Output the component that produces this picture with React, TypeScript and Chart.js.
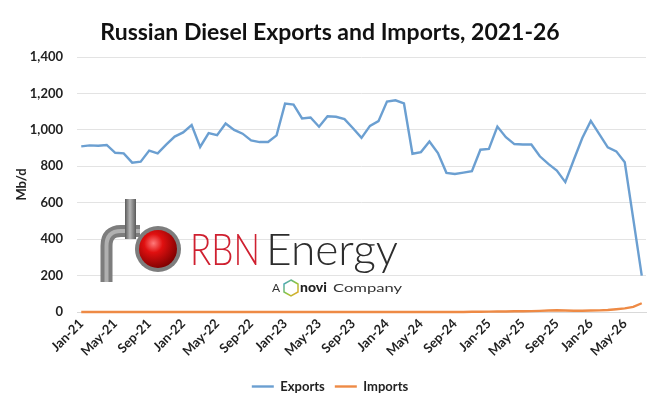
import React, { useEffect, useRef } from "react";
import { Chart, registerables } from "chart.js";

Chart.register(...registerables);

const months: string[] = [
  "Jan-21", "Feb-21", "Mar-21", "Apr-21", "May-21", "Jun-21", "Jul-21", "Aug-21", "Sep-21", "Oct-21", "Nov-21", "Dec-21",
  "Jan-22", "Feb-22", "Mar-22", "Apr-22", "May-22", "Jun-22", "Jul-22", "Aug-22", "Sep-22", "Oct-22", "Nov-22", "Dec-22",
  "Jan-23", "Feb-23", "Mar-23", "Apr-23", "May-23", "Jun-23", "Jul-23", "Aug-23", "Sep-23", "Oct-23", "Nov-23", "Dec-23",
  "Jan-24", "Feb-24", "Mar-24", "Apr-24", "May-24", "Jun-24", "Jul-24", "Aug-24", "Sep-24", "Oct-24", "Nov-24", "Dec-24",
  "Jan-25", "Feb-25", "Mar-25", "Apr-25", "May-25", "Jun-25", "Jul-25", "Aug-25", "Sep-25", "Oct-25", "Nov-25", "Dec-25",
  "Jan-26", "Feb-26", "Mar-26", "Apr-26", "May-26", "Jun-26", "Jul-26",
];

const exportsMbd: number[] = [
  909, 915, 913, 917, 874, 871, 820, 825, 886, 871, 919, 963,
  986, 1026, 906, 982, 971, 1035, 1000, 979, 942, 933, 933, 970,
  1144, 1139, 1063, 1068, 1017, 1075, 1072, 1059, 1009, 956, 1022, 1048,
  1155, 1162, 1145, 869, 878, 936, 873, 764, 758, 765, 773, 891,
  895, 1018, 960, 922, 920, 920, 855, 813, 776, 713, 836, 955,
  1049, 976, 904, 882, 822, 511, 200,
];

const importsMbd: number[] = [
  0, 0, 0, 0, 0, 0, 0, 0, 0, 0, 0, 0,
  0, 0, 0, 0, 0, 0, 0, 0, 0, 0, 0, 0,
  0, 0, 0, 0, 0, 0, 0, 0, 0, 0, 0, 0,
  0, 0, 0, 0, 0, 0, 0, 0, 0, 0, 1, 1,
  2, 3, 3, 4, 4, 5, 6, 8, 10, 8, 7, 7,
  8, 9, 11, 15, 20, 28, 48,
];

const yTicks: number[] = [0, 200, 400, 600, 800, 1000, 1200, 1400];
const labelEvery = 4;

const FONT = "Lato, 'Open Sans', sans-serif";

export default function App() {
  const canvasRef = useRef<HTMLCanvasElement | null>(null);

  useEffect(() => {
    document.body.style.margin = "0";
    const canvas = canvasRef.current;
    if (!canvas) return;
    const chart = new Chart(canvas, {
      type: "line",
      data: {
        labels: months,
        datasets: [
          {
            label: "Exports",
            data: exportsMbd,
            borderColor: "#6b9fd1",
            backgroundColor: "#6b9fd1",
            borderWidth: 2.4,
            pointRadius: 0,
            tension: 0,
            clip: 6,
          },
          {
            label: "Imports",
            data: importsMbd,
            borderColor: "#ee8a45",
            backgroundColor: "#ee8a45",
            borderWidth: 2.4,
            pointRadius: 0,
            tension: 0,
            clip: 6,
          },
        ],
      },
      options: {
        responsive: false,
        animation: false,
        layout: { padding: { left: 14, right: 19, top: 0, bottom: 6 } },
        plugins: {
          title: {
            display: true,
            text: "Russian Diesel Exports and Imports, 2021-26",
            color: "#111",
            font: { family: FONT, size: 23, weight: "bold" },
            padding: { top: 19, bottom: 10.4 },
          },
          legend: {
            position: "bottom",
            labels: {
              usePointStyle: true,
              pointStyle: "line",
              pointStyleWidth: 22,
              padding: 10,
              color: "#222",
              font: { family: FONT, size: 13, weight: "bold" },
            },
          },
          tooltip: { enabled: false },
        },
        scales: {
          x: {
            offset: true,
            grid: { display: false, drawTicks: false },
            border: { display: true, color: "#d9d9d9" },
            ticks: {
              autoSkip: false,
              maxRotation: 45,
              minRotation: 45,
              padding: 4,
              color: "#222",
              font: { family: FONT, size: 13, weight: "bold" },
              callback: (_v: any, i: number) => (i % labelEvery === 0 ? months[i] : ""),
            },
            afterFit: (scale: any) => {
              scale.height = 58;
            },
          },
          y: {
            min: yTicks[0],
            max: yTicks[yTicks.length - 1],
            afterBuildTicks: (scale: any) => {
              scale.ticks = yTicks.map((v) => ({ value: v }));
            },
            grid: { color: "#e3e3e3", drawTicks: false, lineWidth: 1 },
            border: { display: false },
            ticks: {
              padding: 14,
              color: "#222",
              font: { family: FONT, size: 13, weight: "bold" },
              callback: (v: any) => Number(v).toLocaleString("en-US"),
            },
            title: {
              display: true,
              text: "Mb/d",
              color: "#222",
              font: { family: FONT, size: 13, weight: "bold" },
              padding: { top: 0, bottom: 0 },
            },
            afterFit: (scale: any) => {
              scale.width = 63;
            },
          },
        },
      },
    });
    return () => chart.destroy();
  }, []);

  return (
    <div style={{ position: "relative", width: 665, height: 409, background: "#fff" }}>
      <canvas ref={canvasRef} width={665} height={409} style={{ display: "block" }} />
      <svg
        width={665}
        height={409}
        style={{ position: "absolute", left: 0, top: 0, pointerEvents: "none" }}
      >
        <defs>
          <radialGradient id="ball" cx="0.38" cy="0.35" r="0.7">
            <stop offset="0" stopColor="#ff7a7a" />
            <stop offset="0.35" stopColor="#e01010" />
            <stop offset="1" stopColor="#7a0000" />
          </radialGradient>
          <linearGradient id="pipeV" x1="0" y1="0" x2="1" y2="0">
            <stop offset="0" stopColor="#5a5a5a" />
            <stop offset="0.45" stopColor="#b5b5b5" />
            <stop offset="1" stopColor="#5a5a5a" />
          </linearGradient>
          <linearGradient id="novi" x1="0" y1="0" x2="1" y2="1">
            <stop offset="0" stopColor="#3aa0d8" />
            <stop offset="0.5" stopColor="#8cc63f" />
            <stop offset="1" stopColor="#f5a623" />
          </linearGradient>
        </defs>
        <path
          d="M106.5 282 L106.5 246 Q106.5 231 121 231 L140 231"
          fill="none"
          stroke="#7d7d7d"
          strokeWidth={12}
        />
        <path
          d="M106.5 282 L106.5 246 Q106.5 231 121 231 L140 231"
          fill="none"
          stroke="#b0b0b0"
          strokeWidth={4}
        />
        <rect x={125} y={199} width={11} height={40} fill="url(#pipeV)" />
        <circle cx={158} cy={249} r={23} fill="#7d7d7d" />
        <circle cx={158} cy={249} r={19} fill="url(#ball)" />
        <text
          x={190}
          y={265}
          fill="#cf2030"
          fontFamily={FONT}
          fontSize={44}
          fontWeight={300}
          textLength={70}
          lengthAdjust="spacingAndGlyphs"
        >
          RBN
        </text>
        <text
          x={266}
          y={265}
          fill="#2d2d2d"
          fontFamily={FONT}
          fontSize={44}
          fontWeight={300}
          textLength={132}
          lengthAdjust="spacingAndGlyphs"
        >
          Energy
        </text>
        <text x={272} y={292} fill="#333" fontFamily={FONT} fontSize={12}>
          A
        </text>
        <polygon
          points="291,280 298,284 298,292 291,296 284,292 284,284"
          fill="none"
          stroke="url(#novi)"
          strokeWidth={1.5}
        />
        <text x={300} y={292} fill="#222" fontFamily={FONT} fontSize={14} fontWeight={900}>
          novi
        </text>
        <text x={333} y={292} fill="#333" fontFamily={FONT} fontSize={12} textLength={69} lengthAdjust="spacingAndGlyphs">
          Company
        </text>
      </svg>
    </div>
  );
}
